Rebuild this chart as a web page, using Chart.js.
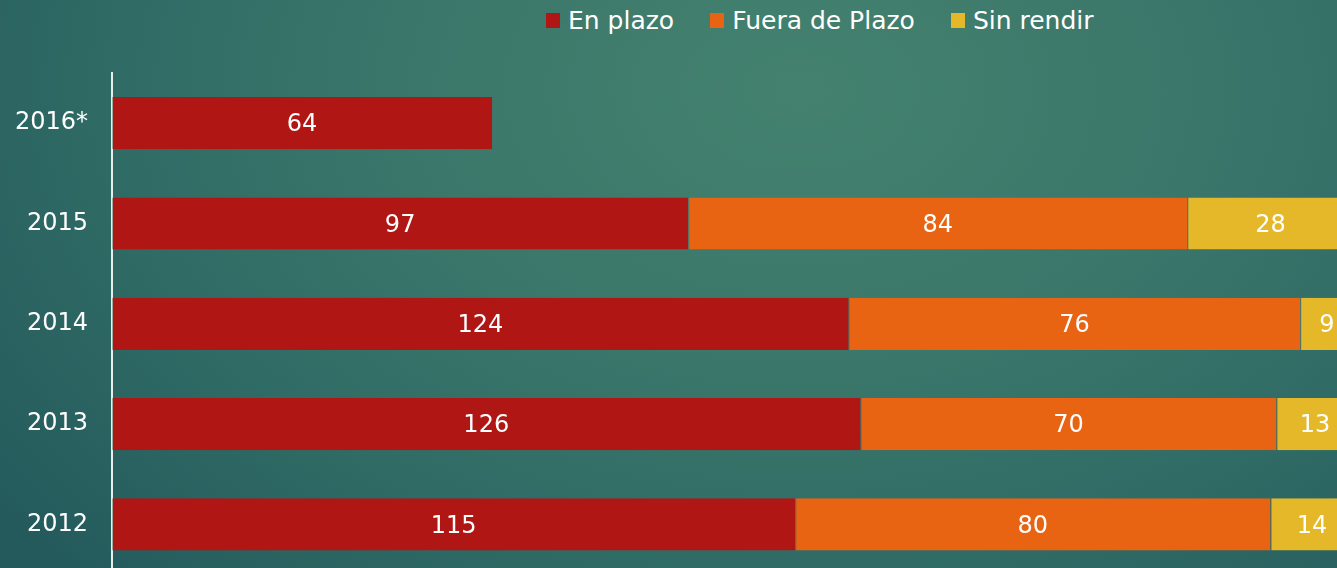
<!DOCTYPE html>
<html>
<head>
<meta charset="utf-8">
<script src="https://cdn.jsdelivr.net/npm/chart.js@4.4.1/dist/chart.umd.min.js"></script>
<style>
  html, body { margin: 0; padding: 0; width: 1337px; height: 568px; overflow: hidden; }
  body {
    background: radial-gradient(ellipse 1000px 700px at 800px 90px, #44826f 0%, #3b776a 38%, #316d66 65%, #245a5c 100%);
    font-family: "DejaVu Sans", sans-serif;
    position: relative;
  }
  #legend { position: absolute; left: 546px; top: 6px; display: flex; align-items: center; color: #fff; font-size: 25px; }
  .item { display: flex; align-items: center; margin-right: 36px; }
  .box { width: 14px; height: 15px; margin-right: 8px; }
  #chart { position: absolute; left: 0; top: 0; }
</style>
</head>
<body>
<div id="legend"></div>
<canvas id="chart" width="1337" height="613"></canvas>
<script>
const years = ['2016*', '2015', '2014', '2013', '2012'];
const enPlazo = [64, 97, 124, 126, 115];
const fueraPlazo = [null, 84, 76, 70, 80];
const sinRendir = [null, 28, 9, 13, 14];
const seriesNames = ['En plazo', 'Fuera de Plazo', 'Sin rendir'];
const seriesColors = ['#b01714', '#e86413', '#e5b82a'];
// the original slide crops the last segment at the right edge
const xMax = 206.2;

// legend in html so it can sit off-centre like the original
let legHTML = '';
seriesNames.forEach((n, i) => {
    legHTML += `<div class="item"><div class="box" style="background:${seriesColors[i]}"></div>${n}</div>`;
});
document.getElementById('legend').innerHTML = legHTML;

const valueLabels = {
    id: 'valueLabels',
    afterDatasetsDraw(chart) {
        const ctx = chart.ctx;
        ctx.save();
        ctx.fillStyle = '#ffffff';
        ctx.font = '24px "DejaVu Sans", sans-serif';
        ctx.textAlign = 'center';
        ctx.textBaseline = 'middle';
        chart.data.datasets.forEach((ds, di) => {
            chart.getDatasetMeta(di).data.forEach((bar, i) => {
                const v = ds.data[i];
                if (v == null) return;
                const cx = (bar.x + bar.base) / 2;
                ctx.fillText(String(v), cx, bar.y + 2);
            });
        });
        ctx.restore();
    }
};

const data = [enPlazo, fueraPlazo, sinRendir];
const chart = new Chart(document.getElementById('chart'), {
    type: 'bar',
    data: {
        labels: years,
        datasets: data.map((d, i) => ({
            label: seriesNames[i],
            data: d,
            backgroundColor: seriesColors[i],
            borderColor: 'rgba(120,130,110,0.6)',
            borderWidth: { left: 1, right: 0, top: 0, bottom: 0 },
            borderSkipped: false,
            categoryPercentage: 1,
            barPercentage: 0.52
        }))
    },
    options: {
        indexAxis: 'y',
        responsive: false,
        animation: false,
        layout: { padding: { top: 73, right: 0, bottom: 0, left: 0 } },
        plugins: { legend: { display: false }, tooltip: { enabled: false } },
        scales: {
            x: { stacked: true, min: 0, max: xMax, display: false },
            y: {
                stacked: true,
                grid: { display: false, drawTicks: false },
                border: { display: true, color: '#e8eeec', width: 2 },
                ticks: { color: '#ffffff', padding: 24, font: { family: 'DejaVu Sans', size: 24 } },
                afterFit(scale) { scale.width = 112; }
            }
        }
    },
    plugins: [valueLabels]
});
</script>
</body>
</html>
